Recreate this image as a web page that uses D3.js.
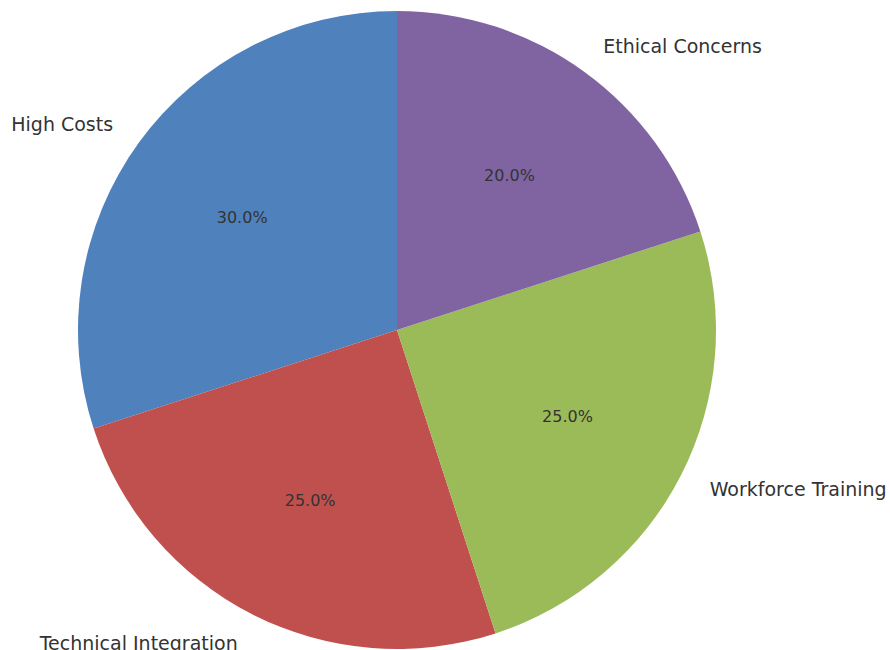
<!DOCTYPE html>
<html>
<head>
<meta charset="utf-8">
<script src="https://cdn.jsdelivr.net/npm/d3@7"></script>
<style>
  html, body { margin: 0; padding: 0; background: #ffffff; }
  svg { display: block; }
</style>
</head>
<body>
<svg id="chart" width="890" height="650"></svg>
<script>
// Challenges and their shares of the total
const categories = ["High Costs", "Technical Integration", "Workforce Training", "Ethical Concerns"];
const shares = [30, 25, 25, 20];
const sliceColors = ["#4f81bd", "#c0504d", "#9bbb59", "#8064a2"];

const width = 890, height = 650;
const cx = 397, cy = 330, radius = 319;

const svg = d3.select("#chart");
const g = svg.append("g").attr("transform", `translate(${cx},${cy})`);

const data = categories.map((c, i) => ({ name: c, value: shares[i], color: sliceColors[i] }));

// Counter-clockwise from 12 o'clock
const pie = d3.pie().value(d => d.value).sort(null).startAngle(0).endAngle(-2 * Math.PI);
const arcs = pie(data);

const arc = d3.arc().innerRadius(0).outerRadius(radius);

g.selectAll("path.slice")
  .data(arcs)
  .enter().append("path")
  .attr("class", "slice")
  .attr("d", arc)
  .attr("fill", d => d.data.color);

const total = d3.sum(shares);
const mid = d => (d.startAngle + d.endAngle) / 2;

// Percentage labels at 0.6 of the radius
g.selectAll("text.pct")
  .data(arcs)
  .enter().append("text")
  .attr("class", "pct")
  .attr("x", d => 0.6 * radius * Math.sin(mid(d)))
  .attr("y", d => -0.6 * radius * Math.cos(mid(d)))
  .attr("text-anchor", "middle")
  .attr("dominant-baseline", "central")
  .attr("font-family", "DejaVu Sans, sans-serif")
  .attr("font-size", 16)
  .attr("fill", "#333333")
  .text(d => (d.data.value / total * 100).toFixed(1) + "%");

// Category labels at 1.1 of the radius
g.selectAll("text.cat")
  .data(arcs)
  .enter().append("text")
  .attr("class", "cat")
  .attr("x", d => 1.1 * radius * Math.sin(mid(d)))
  .attr("y", d => -1.1 * radius * Math.cos(mid(d)))
  .attr("text-anchor", d => Math.sin(mid(d)) >= 0 ? "start" : "end")
  .attr("dominant-baseline", "central")
  .attr("font-family", "DejaVu Sans, sans-serif")
  .attr("font-size", 19)
  .attr("fill", "#333333")
  .text(d => d.data.name);
</script>
</body>
</html>
